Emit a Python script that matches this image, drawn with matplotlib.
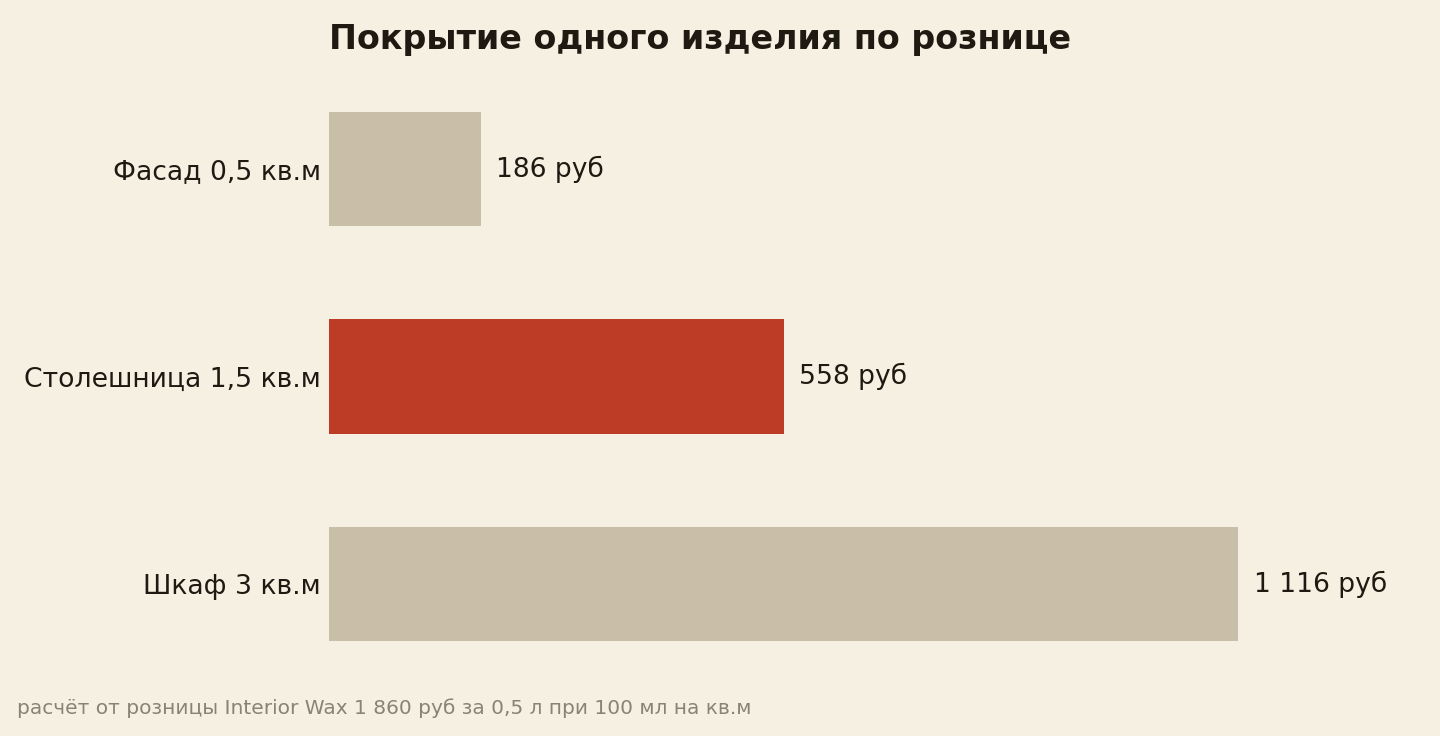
import matplotlib
matplotlib.use("Agg")
import matplotlib.pyplot as plt

# data
categories = ["Фасад 0,5 кв.м", "Столешница 1,5 кв.м", "Шкаф 3 кв.м"]
values = [186, 558, 1116]
value_labels = ["186 руб", "558 руб", "1 116 руб"]
highlight = 1

BG = "#F6F0E3"
BAR = "#C9BFA8"
RED = "#BC3C26"
INK = "#1E1A12"
MUTED = "#8A8275"

plt.rcParams["font.family"] = ["DejaVu Sans"]

fig = plt.figure(figsize=(14.4, 7.36), dpi=100, facecolor=BG)
ax = fig.add_axes([329 / 1440, 1 - 641 / 736, (1238 - 329) / 1440, (641 - 112) / 736])
ax.set_facecolor(BG)

y = list(range(len(categories)))
colors = [RED if i == highlight else BAR for i in y]
ax.barh(y, values, height=0.55, color=colors)

ax.set_xlim(0, max(values))
ax.set_ylim(len(categories) - 1 + 0.275, -0.275)
ax.set_yticks(y)
ax.set_yticklabels(categories, fontsize=19.2, color=INK)
ax.tick_params(axis="y", length=0, pad=6)
ax.set_xticks([])
for s in ax.spines.values():
    s.set_visible(False)

for yi, v, lab in zip(y, values, value_labels):
    ax.annotate(lab, (v, yi), xytext=(11.5, 0), textcoords="offset points",
                va="center", ha="left", fontsize=19.1, color=INK,
                annotation_clip=False)

fig.text(329 / 1440, 1 - 40 / 736, "Покрытие одного изделия по рознице",
         fontsize=24, fontweight="bold", color=INK, ha="left", va="center")
fig.text(17 / 1440, 1 - 708 / 736,
         "расчёт от розницы Interior Wax 1 860 руб за 0,5 л при 100 мл на кв.м",
         fontsize=14.5, color=MUTED, ha="left", va="center")

fig.savefig("out.png", dpi=100, facecolor=BG)
